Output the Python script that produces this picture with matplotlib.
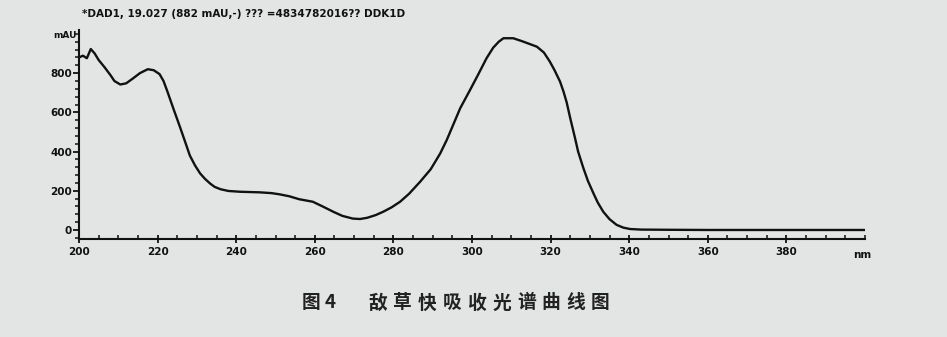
import matplotlib
matplotlib.use("Agg")
import matplotlib.pyplot as plt
from matplotlib.ticker import MultipleLocator

wavelength = [200, 201, 202, 203, 204, 205, 206.5, 208, 209, 210.5, 212, 213.8, 215.5,
              217.5, 219, 220.5, 221.5, 222.5, 224, 225.7, 227, 228.2, 229.5, 230.8,
              232, 233.3, 234.5, 236, 238, 241, 246, 249, 251, 253.5, 256, 259.5, 262,
              264.7, 267, 269.7, 271.5, 273.3, 275.5, 277.4, 279.5, 281.7, 284, 286.8,
              289.5, 291.9, 293.6, 295.5, 297, 299.5, 301.5, 303.7, 305.4, 306.8, 308,
              310.5, 313, 316.5, 318.3, 319.8, 321, 322.4, 323.3, 324.1, 325, 326.2, 327,
              328.3, 329.5, 330.9, 332, 333.4, 335, 336.8, 338.5, 340.2, 343, 350,
              360, 400]
absorbance = [880, 889, 876, 923, 900, 867, 830, 790, 760, 742, 748, 774, 800,
              820, 815, 795, 760, 706, 620, 525, 450, 380, 330, 289,
              262, 238, 220, 208, 199, 195, 192, 188, 182, 172, 157, 144, 120,
              93, 72, 58, 56, 62, 76, 93, 115, 144, 185, 246,
              310, 390, 460, 550, 621, 714, 790, 876, 930, 960, 978,
              978, 961, 935, 905, 859, 815, 757, 705, 650, 570, 470, 400,
              318, 250, 187, 140, 93, 55, 26, 12, 5, 2, 1,
              0, 0]

x_ticks = [200, 220, 240, 260, 280, 300, 320, 340, 360, 380]
x_ticklabels = ["200", "220", "240", "260", "280", "300", "320", "340", "360", "380"]
y_ticks = [0, 200, 400, 600, 800]
y_ticklabels = ["0", "200", "400", "600", "800"]

title_text = "*DAD1, 19.027 (882 mAU,-) ??? =4834782016?? DDK1D"
caption_label = "图 4"
caption_title = "敌草快吸收光谱曲线图"

bg = "#e3e5e4"
ink = "#111111"
fig = plt.figure(figsize=(9.47, 3.37), dpi=100, facecolor=bg)
ax = fig.add_axes([79/947, 1-239/337, (865-79)/947, (239-30)/337])
ax.set_facecolor(bg)

ax.plot(wavelength, absorbance, color=ink, lw=1.7, solid_joinstyle="round")

ax.set_xlim(200, 400)
ax.set_ylim(-46, 1020)
for s in ["top", "right"]:
    ax.spines[s].set_visible(False)
for s in ["left", "bottom"]:
    ax.spines[s].set_linewidth(1.5)
    ax.spines[s].set_color(ink)

ax.set_xticks(x_ticks)
ax.set_xticklabels(x_ticklabels)
ax.set_yticks(y_ticks)
ax.set_yticklabels(y_ticklabels)
ax.xaxis.set_minor_locator(MultipleLocator(5))
ax.yaxis.set_minor_locator(MultipleLocator(40))

for lab in ax.get_xticklabels() + ax.get_yticklabels():
    lab.set_fontfamily("DejaVu Sans")
    lab.set_fontweight("bold")
    lab.set_fontsize(7.5)
    lab.set_color(ink)

ax.tick_params(axis="x", which="major", direction="inout", length=6, width=1.3, pad=3, colors=ink)
ax.tick_params(axis="x", which="minor", direction="in", length=3, width=1.1, colors=ink)
ax.tick_params(axis="y", which="major", direction="out", length=4, width=1.3, pad=1, colors=ink)
ax.tick_params(axis="y", which="minor", direction="out", length=3, width=1.1, colors=ink)

fig.text(862/947, 1-255/337, "nm", ha="center", va="center",
         fontsize=7.5, fontweight="bold", family="DejaVu Sans", color=ink)
fig.text(77/947, 1-36/337, "mAU", ha="right", va="center", fontsize=6.5,
         fontweight="bold", family="DejaVu Sans", color=ink)
fig.text(82/947, 1-14/337, title_text, ha="left", va="center", fontsize=7.5,
         fontweight="bold", family="DejaVu Sans", color=ink)

cap_font = dict(fontsize=13.5, fontweight="bold", family=["Noto Sans CJK SC", "DejaVu Sans"],
                color="#222222", va="center")
fig.text(302/947, 1-303/337, caption_label, ha="left", **cap_font)
pitch = 24.7
for i, ch in enumerate(caption_title):
    fig.text((378 + i*pitch)/947, 1-303/337, ch, ha="center", **cap_font)

fig.savefig("out.png", dpi=100, facecolor=bg)
